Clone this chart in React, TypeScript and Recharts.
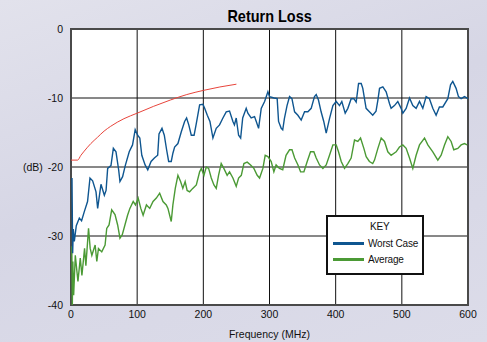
import {
  LineChart,
  Line,
  XAxis,
  YAxis,
  CartesianGrid,
  ReferenceArea,
  Legend,
} from 'recharts'

// frequency (MHz) / return loss (dB)
const worstFreq = [
  1.5, 2.5, 3.5, 5, 8, 12.6, 16, 20, 25, 28.7, 32.7, 37.8, 40.3, 45.3, 50.4, 53, 55.4, 60.4, 64, 68,
  72, 74, 78, 82, 88, 93, 97, 100.7, 104, 107, 112, 116, 121, 126, 131, 133, 137.5, 141, 144.5,
  147.6, 151.5, 154, 156.6, 161.6, 166.7, 171.7, 174.7, 178, 181.8, 186, 189, 194.4, 199.4, 202,
  206, 210, 214.5, 219.5, 224.5, 229.6, 234.6, 239.6, 244.7, 247, 249.7, 253.3, 256.4, 259.5,
  264.8, 267.3, 272.3, 277.4, 280, 283.5, 287.5, 292.6, 297.6, 300, 307, 311.6, 313.7, 317.7,
  320, 322.5, 326.5, 330.3, 333.9, 337.9, 342.9, 347.9, 353, 358, 363, 368, 370.6, 374, 378,
  382, 385.7, 390.7, 395.8, 400.8, 405.8, 409.3, 414.4, 418.4, 423.4, 427.5, 431, 434.6, 438.6,
  441, 446, 451, 456, 461, 463.8, 466.3, 471.3, 476.3, 481.3, 483.8, 488.8, 493.9, 498.9, 501.5,
  506.5, 511.6, 516.6, 521.6, 526.7, 531.7, 536.7, 541.7, 546.8, 551.8, 556.8, 561.9, 569.5,
  573.6, 577, 582, 585.6, 589.6, 594.7, 600,
]
const worstDb = [
  -21.6, -32.5, -29, -30.8, -28.5, -27.4, -27.8, -26.5, -25.0, -21.6, -22.0, -23.6, -26.0, -22.5,
  -24.1, -23.4, -20.2, -19.8, -17.3, -17.8, -20.4, -22.1, -21.4, -19.8, -17.8, -16.8, -14.6,
  -15.4, -15.8, -18.3, -19.7, -20.4, -19.2, -18.7, -18.3, -15.2, -14.4, -15.4, -17.5, -19.2,
  -19.2, -18.0, -17.1, -16.6, -14.9, -13.4, -12.9, -13.9, -15.4, -15.4, -13.9, -11.0, -10.9,
  -11.5, -12.5, -13.4, -15.8, -14.4, -13.9, -12.9, -12.0, -11.9, -13.4, -13.9, -12.9, -15.4,
  -15.8, -12.9, -11.5, -12.2, -12.9, -12.7, -13.4, -14.4, -11.5, -10.5, -9.1, -9.8, -10.0, -10.1,
  -13.4, -14.4, -14.6, -13.0, -11.1, -9.8, -10.1, -12.0, -12.5, -13.2, -12.0, -12.0, -11.5, -9.8,
  -9.5, -10.3, -12.0, -13.4, -15.1, -13.0, -11.1, -10.5, -11.1, -10.5, -12.2, -11.5, -10.1,
  -10.1, -10.6, -7.9, -7.9, -8.6, -11.5, -12.0, -12.5, -11.9, -10.3, -8.6, -8.4, -9.1, -10.8,
  -11.5, -11.1, -10.5, -11.5, -12.2, -11.5, -10.0, -11.1, -11.5, -10.5, -11.5, -9.8, -10.1,
  -11.5, -12.5, -11.3, -11.3, -10.1, -8.1, -7.6, -8.6, -9.8, -10.1, -9.8, -10.1,
]

const avgFreq = [
  1.2, 2, 2.8, 4, 6.5, 10.5, 14, 16.5, 20.5, 22.5, 26.5, 29, 31.5, 36.5, 39, 41.5, 46.5, 51.5, 54,
  57.5, 61.5, 66.5, 70.5, 74, 77.5, 81.5, 85.5, 89, 94, 97.5, 101.5, 105.5, 109, 114, 119, 124,
  129, 134, 139, 144, 146.5, 151.5, 154, 157.6, 161.6, 165.6, 169, 172.5, 175.5, 179.3, 184,
  189.4, 194.4, 197, 201, 204.4, 208, 212, 216, 219.5, 223, 227, 231, 236, 239.6, 244.7, 249.7,
  253.3, 257.4, 261.3, 266.3, 271.4, 276.4, 281.4, 285, 290, 293.5, 297.6, 302.6, 306.6, 310,
  315, 320, 325, 330.3, 334, 338, 343, 347, 352, 357, 362, 367, 370.6, 375.6, 380.7, 385.7,
  390.7, 395.8, 400.8, 404.3, 408.4, 413.4, 418.4, 423.4, 428.5, 433.5, 437.6, 442.6, 446.1,
  451, 456, 458.7, 463.8, 468.8, 473.8, 478.8, 483.8, 491.4, 496.4, 501.5, 506.5, 511.6, 516.6,
  521.6, 526.7, 534.3, 539.3, 546.8, 554.4, 559.4, 564.5, 569.5, 574.5, 578.5, 584.6, 589.6,
  594.7, 598.7,
]
const avgDb = [
  -31.5, -40, -33.7, -38.6, -32.8, -36.6, -33.2, -35.7, -31.8, -34.3, -28.9, -31.8, -32.8, -31.3,
  -33.7, -31.8, -32.3, -31.3, -28.9, -28.4, -26.2, -26.9, -28.4, -30.3, -29.8, -28.4, -27.0,
  -26.0, -25.0, -25.5, -24.5, -26.0, -27.0, -25.5, -26.0, -25.0, -24.5, -23.8, -25.0, -25.5,
  -26.0, -27.9, -25.5, -23.1, -21.2, -22.1, -23.1, -22.1, -23.4, -23.6, -23.1, -22.6, -20.7,
  -20.2, -21.2, -20.0, -20.2, -21.6, -22.6, -23.1, -21.2, -19.5, -20.2, -21.2, -20.7, -21.6,
  -22.8, -21.6, -21.2, -19.5, -19.3, -19.7, -20.2, -21.2, -21.6, -20.2, -18.3, -18.5, -19.2,
  -20.7, -19.7, -20.2, -20.4, -18.3, -17.5, -17.5, -18.7, -19.7, -20.7, -20.7, -19.2, -17.8,
  -17.8, -18.7, -19.7, -20.2, -19.7, -18.3, -16.8, -16.8, -17.8, -19.2, -20.2, -19.5, -18.7,
  -16.1, -16.3, -15.8, -17.3, -18.5, -19.2, -19.5, -19.0, -17.3, -15.8, -16.3, -17.8, -18.3,
  -17.8, -17.1, -16.8, -17.3, -18.7, -20.2, -18.3, -16.8, -15.8, -16.8, -17.8, -19.0, -18.3,
  -16.8, -15.6, -16.3, -17.5, -17.3, -16.8, -16.6, -16.8,
]

const limitFreq = [0, 10, 15, 20, 30, 40, 50, 60, 80, 100, 125, 150, 175, 200, 225, 250]
const limitDb = [
  -19, -19, -18.3, -17.7, -16.6, -15.7, -14.8, -14.1, -13.0, -12.2, -11.2, -10.3, -9.5, -8.9,
  -8.4, -8.0,
]

const xTicks = [0, 100, 200, 300, 400, 500, 600]
const yTicks = [-40, -30, -20, -10, 0]

const toPoints = (fs: number[], vs: number[]) => fs.map((f, i) => ({ f, v: vs[i] }))

const FONT = '"Liberation Sans Narrow", "Arial Narrow", "Liberation Sans", Arial, sans-serif'
const BLUE = '#0f5690'
const GREEN = '#4b9a35'
const tickStyle = { fontSize: 10.5, fill: '#111', fontFamily: FONT }

function KeyBox() {
  return (
    <div
      style={{
        width: 98,
        height: 60,
        boxSizing: 'border-box',
        border: '2px solid #111',
        background: '#fff',
        fontFamily: FONT,
        fontSize: 10,
        letterSpacing: -0.2,
        color: '#111',
        padding: '3px 0 0 5px',
        whiteSpace: 'nowrap',
      }}
    >
      <div style={{ paddingLeft: 37, marginBottom: 1, lineHeight: '14px' }}>KEY</div>
      {[
        { label: 'Worst Case', color: BLUE },
        { label: 'Average', color: GREEN },
      ].map((k) => (
        <div key={k.label} style={{ display: 'flex', alignItems: 'center', height: 16 }}>
          <span style={{ width: 31, height: 3, background: k.color, marginRight: 4, flex: 'none' }} />
          <span>{k.label}</span>
        </div>
      ))}
    </div>
  )
}

export default function App() {
  return (
    <div
      style={{
        position: 'absolute',
        left: 0,
        top: 0,
        width: 487,
        height: 342,
        background: 'linear-gradient(160deg, #e2e2ec 0%, #d6d6e5 45%, #dcdce9 100%)',
        fontFamily: FONT,
      }}
    >
      <div
        style={{
          position: 'absolute',
          left: 71,
          width: 397,
          top: 7,
          textAlign: 'center',
        }}
      >
        <span
          style={{
            display: 'inline-block',
            fontWeight: 'bold',
            fontSize: 17,
            color: '#000',
            transform: 'scaleX(0.85)',
          }}
        >
          Return Loss
        </span>
      </div>
      <LineChart width={487} height={342} margin={{ top: 29, right: 19, bottom: 0, left: 0 }}>
        <CartesianGrid stroke="#111" strokeWidth={1} fill="#fff" fillOpacity={1} />
        <XAxis
          type="number"
          dataKey="f"
          domain={[0, 600]}
          ticks={xTicks}
          axisLine={false}
          tickLine={false}
          tickSize={4}
          height={37}
          tick={tickStyle}
          label={{ value: 'Frequency (MHz)', position: 'insideBottom', offset: 4, ...tickStyle }}
        />
        <YAxis
          type="number"
          domain={[-40, 0]}
          ticks={yTicks}
          axisLine={false}
          tickLine={false}
          width={71}
          tick={tickStyle}
          label={{ value: '(dB)', position: 'insideLeft', offset: 23, ...tickStyle }}
        />
        <ReferenceArea x1={0} x2={600} y1={-40} y2={0} fill="none" stroke="#4a4a4a" strokeWidth={2} />
        <Line
          data={toPoints(limitFreq, limitDb)}
          dataKey="v"
          type="monotone"
          stroke="#e8453c"
          strokeWidth={1}
          dot={false}
          isAnimationActive={false}
          legendType="none"
        />
        <Line
          data={toPoints(avgFreq, avgDb)}
          dataKey="v"
          type="linear"
          stroke={GREEN}
          strokeWidth={1.4}
          dot={false}
          isAnimationActive={false}
        />
        <Line
          data={toPoints(worstFreq, worstDb)}
          dataKey="v"
          type="linear"
          stroke={BLUE}
          strokeWidth={1.4}
          dot={false}
          isAnimationActive={false}
        />
        <Legend
          layout="vertical"
          align="center"
          verticalAlign="middle"
          content={() => <KeyBox />}
          wrapperStyle={{ left: 326, top: 215, width: 98, height: 60 }}
        />
      </LineChart>
    </div>
  )
}
